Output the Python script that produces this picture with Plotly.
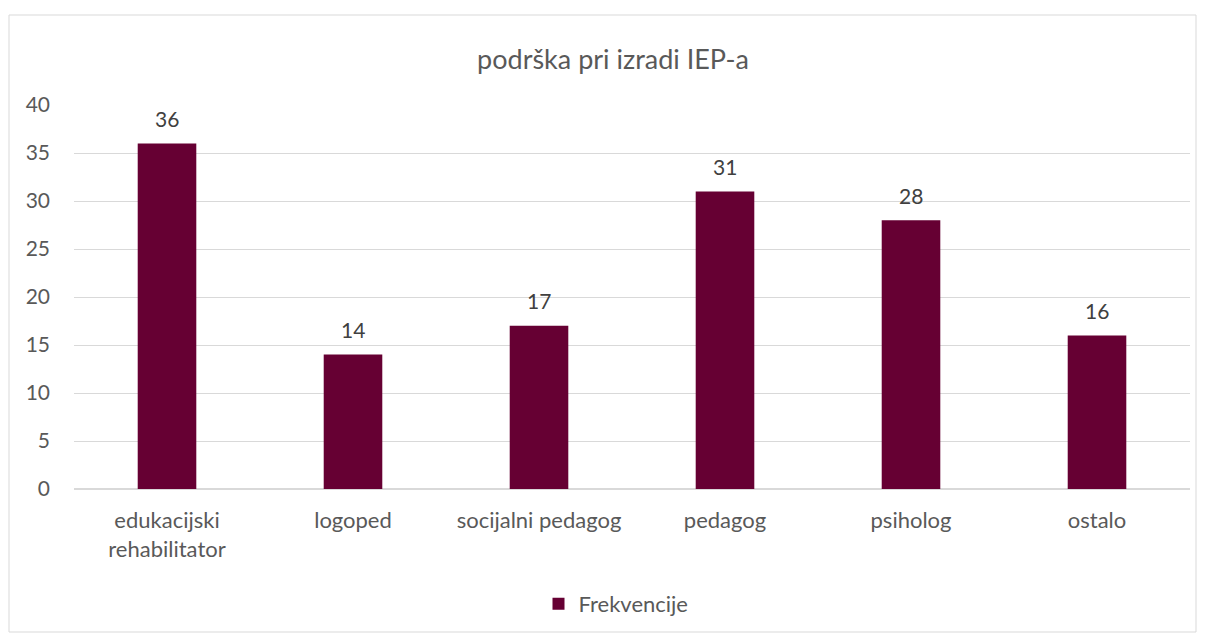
import plotly.graph_objects as go

categories = ["edukacijski<br>rehabilitator", "logoped", "socijalni pedagog", "pedagog", "psiholog", "ostalo"]
values = [36, 14, 17, 31, 28, 16]
series_name = "Frekvencije"
title_text = "podrška pri izradi IEP-a"

# page body has an 8px offset; size the figure so it fits the 1209x635 window
OFF = 8
W, H = 1209 - OFF, 635 - OFF
ml, mr, mt = 74 - OFF, 19, 105 - OFF
ph = 384
mb = H - mt - ph
pw = W - ml - mr

font = "Lato, Open Sans, sans-serif"

fig = go.Figure()
fig.add_trace(go.Bar(
    x=categories, y=values, name=series_name,
    marker=dict(color="#660033", line=dict(width=0)),
    width=0.315,
    showlegend=True,
))

for c, v in zip(categories, values):
    fig.add_annotation(x=c, y=v, text=str(v), showarrow=False, yanchor="middle", yshift=25,
                       font=dict(size=21, color="#404040", family=font))

fig.update_layout(
    width=W, height=H,
    margin=dict(l=ml, r=mr, t=mt, b=mb, autoexpand=False),
    paper_bgcolor="white", plot_bgcolor="white",
    title=dict(text=title_text, x=(613 - OFF - ml) / pw, xref="paper", xanchor="center",
               y=1 - (60 - OFF) / H, yanchor="middle",
               font=dict(size=27, color="#595959", family=font)),
    font=dict(family=font, color="#595959", size=22),
    showlegend=True,
    legend=dict(orientation="h", x=(616 - 74) / pw, xanchor="center", y=-(604 - 489) / ph, yanchor="middle",
                font=dict(size=22, color="#595959", family=font)),
    xaxis=dict(showgrid=False, showline=True, linecolor="#d9d9d9", linewidth=1,
               tickfont=dict(size=22, color="#595959"), ticks="", ticklabelstandoff=12),
    yaxis=dict(range=[0, 40], dtick=5, showgrid=True, gridcolor="#d9d9d9", gridwidth=1,
               zeroline=True, zerolinecolor="#d9d9d9", showline=False,
               tickfont=dict(size=21, color="#595959"), ticks="", ticklabelstandoff=23),
    shapes=[dict(type="rect", xref="paper", yref="paper",
                 x0=(9 - 74) / pw, x1=(1196 - 74) / pw,
                 y0=(489 - 632) / ph, y1=(489 - 15) / ph,
                 line=dict(color="#d9d9d9", width=1), fillcolor="rgba(0,0,0,0)", layer="below")],
)

fig.write_html("out.html")
